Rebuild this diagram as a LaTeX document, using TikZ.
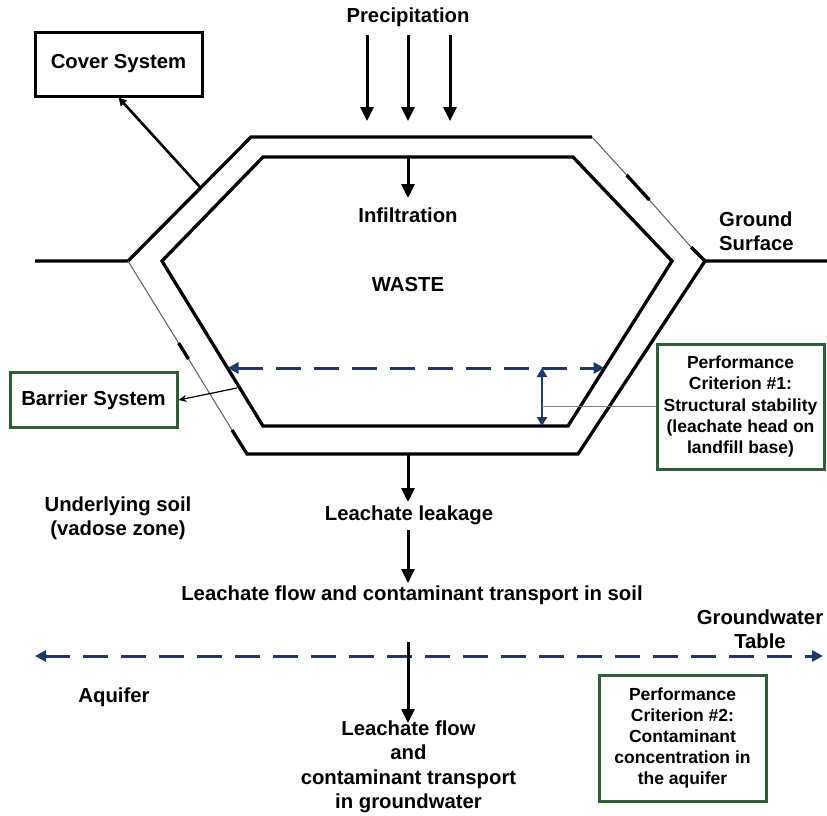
\documentclass[tikz,border=0pt]{standalone}
\usepackage{fontspec}
\setmainfont{Liberation Sans}
\usetikzlibrary{arrows.meta}
\definecolor{navy}{HTML}{1F3A68}
\definecolor{boxgreen}{HTML}{2E5E3B}
\definecolor{seamgray}{HTML}{6A6A6A}
\tikzset{
  lbl/.style={font=\bfseries\fontsize{20.3}{24.5}\selectfont, align=center, inner sep=0pt},
  boxlbl/.style={font=\bfseries\fontsize{17.5}{21.2}\selectfont, align=center, inner sep=0pt},
  plainbox/.style={draw=black, line width=3pt, minimum width=167pt, inner sep=0pt},
  greenbox/.style={draw=boxgreen, line width=3pt, minimum width=167pt, inner sep=0pt},
  wall/.style={line width=3.3pt, line join=miter},
  seam/.style={line width=1.1pt, draw=seamgray},
  flow/.style={line width=3pt, -{Triangle[width=13pt,length=14pt]}},
  pointer/.style={line width=2.6pt, -{Triangle[width=8pt,length=8pt]}},
  thinpointer/.style={line width=1.2pt, -{Stealth[width=7pt,length=8pt]}},
  level/.style={navy, line width=3pt, dash pattern=on 25pt off 13pt,
    {Triangle[width=11pt,length=11pt]}-{Triangle[width=11pt,length=11pt]}},
  head/.style={navy, line width=2.4pt,
    {Triangle[width=10pt,length=9pt]}-{Triangle[width=10pt,length=9pt]}},
  leader/.style={line width=1.3pt, draw=black!50},
}
\begin{document}
\begin{tikzpicture}[x=1pt,y=-1pt]
\useasboundingbox (0,0) rectangle (827,815);

% ---------- landfill cross-section ----------
% inner liner
\draw[wall] (263,157) -- (573,157) -- (672,261) -- (568,426) -- (263,426) -- (162,261) -- cycle;
% ground surface, cover and outer barrier (thick parts)
\draw[wall] (35,261) -- (128,261) -- (251,137) -- (592,137);
\draw[wall] (626.6,175) -- (649.4,200);
\draw[wall] (691,247) -- (705,261) -- (827,261);
\draw[wall] (178.6,343) -- (188.5,359);
\draw[wall] (232,430) -- (247,454) -- (578,454) -- (705,261);
% thin joints along the outer barrier
\draw[seam] (592,137) -- (626.6,175);
\draw[seam] (649.4,200) -- (691,247);
\draw[seam] (128,261) -- (178.6,343);
\draw[seam] (188.5,359) -- (232,430);

% ---------- labels ----------
\node[lbl] (precip) at (408,17) {Precipitation};
\node[lbl] (infil) at (408,215) {Infiltration};
\node[lbl] (waste) at (408,285) {WASTE};
\node[lbl, align=left, anchor=west] (ground) at (719,231) {Ground\\Surface};
\node[lbl] (soil) at (118,518) {Underlying soil\\(vadose zone)};
\node[lbl] (leak) at (409,515) {Leachate leakage};
\node[lbl] (soilflow) at (412,595) {Leachate flow and contaminant transport in soil};
\node[lbl] (gwt) at (760,629) {Groundwater\\Table};
\node[lbl] (aquifer) at (114,697) {Aquifer};
\node[lbl] (gwflow) at (408.5,767) {Leachate flow\\and\\contaminant transport\\in groundwater};

% ---------- boxes ----------
\node[plainbox, minimum height=64pt, lbl] (cover) at (118.5,64) {Cover System};
\node[greenbox, minimum height=55pt, lbl] (barrier) at (93.5,400) {Barrier System};
\node[greenbox, minimum height=125pt, boxlbl] (perf1) at (740.5,406.5)
  {Performance\\Criterion \#1:\\Structural stability\\(leachate head on\\landfill base)};
\node[greenbox, minimum height=126pt, boxlbl] (perf2) at (682.5,738)
  {Performance\\Criterion \#2:\\Contaminant\\concentration in\\the aquifer};

% ---------- connector end points ----------
\coordinate (r1a) at (367,35);  \coordinate (r1b) at (367,121);
\coordinate (r2a) at (408,35);  \coordinate (r2b) at (408,121);
\coordinate (r3a) at (450,35);  \coordinate (r3b) at (450,121);
\coordinate (infa) at (408,157); \coordinate (infb) at (408,198);
\coordinate (cova) at (200,187);
\coordinate (bara) at (237,388);
\coordinate (lka) at (408,454); \coordinate (lkb) at (408,502);
\coordinate (sfa) at (408,530); \coordinate (sfb) at (408,583);
\coordinate (gfa) at (408,642); \coordinate (gfb) at (408,723);
\coordinate (lvL) at (227.5,368); \coordinate (lvR) at (604.6,368);
\coordinate (hdT) at (542,368); \coordinate (hdB) at (542,426);
\coordinate (hdM) at (542,406.5);
\coordinate (gwL) at (35,656); \coordinate (gwR) at (823,656);

% ---------- connectors ----------
\draw[flow] (r1a) -- (r1b);
\draw[flow] (r2a) -- (r2b);
\draw[flow] (r3a) -- (r3b);
\draw[flow] (infa) -- (infb);
\draw[pointer] (cova) -- (cover.south);
\draw[thinpointer] (bara) -- (barrier.east);
\draw[level] (lvL) -- (lvR);
\draw[head] (hdT) -- (hdB);
\draw[leader] (hdM) -- (perf1.west);
\draw[level] (gwL) -- (gwR);
\draw[flow] (lka) -- (lkb);
\draw[flow] (sfa) -- (sfb);
\draw[flow] (gfa) -- (gfb);
\end{tikzpicture}
\end{document}
